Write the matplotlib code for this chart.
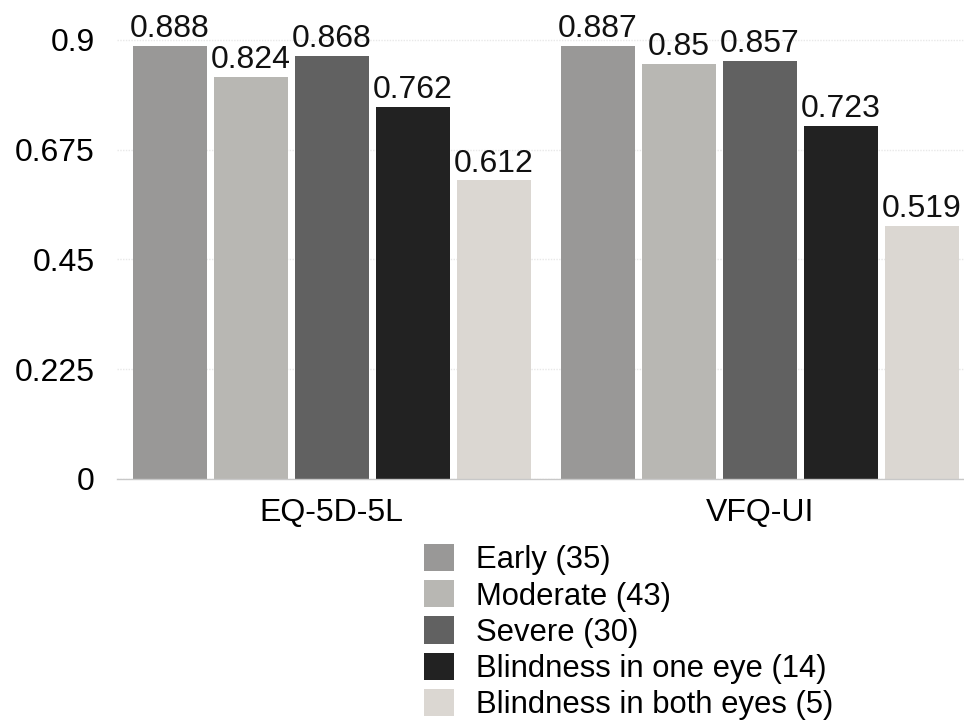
import matplotlib
matplotlib.use("Agg")
import matplotlib.pyplot as plt
import numpy as np
from matplotlib.patches import Patch

plt.rcParams['font.family'] = ['Liberation Sans', 'DejaVu Sans']

instruments = ["EQ-5D-5L", "VFQ-UI"]
stages = ["Early (35)", "Moderate (43)", "Severe (30)",
          "Blindness in one eye (14)", "Blindness in both eyes (5)"]
early = [0.888, 0.887]
moderate = [0.824, 0.85]
severe = [0.868, 0.857]
blind_one = [0.762, 0.723]
blind_both = [0.612, 0.519]
series = [early, moderate, severe, blind_one, blind_both]
colors = ["#999897", "#b8b7b3", "#616161", "#222222", "#dbd7d2"]
yticks = [0, 0.225, 0.45, 0.675, 0.9]
ytick_labels = ["0", "0.225", "0.45", "0.675", "0.9"]

fig = plt.figure(figsize=(9.64, 7.21), dpi=100)
ax = fig.add_axes([117 / 964, 1 - 479 / 721, 1 - 117 / 964, 479 / 721])

x = np.arange(len(instruments))
step = 0.189
width = 0.173
for i, (vals, col) in enumerate(zip(series, colors)):
    pos = x + (i - 2) * step
    bars = ax.bar(pos, vals, width=width, color=col, label=stages[i], zorder=2)
    for b, v in zip(bars, vals):
        ax.text(b.get_x() + b.get_width() / 2, v + 0.004, f"{v:g}",
                ha="center", va="bottom", fontsize=23, color="#111111")

ax.set_xlim(-0.502, 1.477)
ax.set_ylim(0, 0.982)
ax.set_yticks(yticks)
ax.set_yticklabels(ytick_labels, fontsize=23)
ax.set_xticks(x)
ax.set_xticklabels(instruments, fontsize=23)
ax.tick_params(axis="y", length=0, pad=16)
ax.tick_params(axis="x", length=0, pad=14)
for s in ["top", "right", "left"]:
    ax.spines[s].set_visible(False)
ax.spines["bottom"].set_color("#c8c8c8")
ax.spines["bottom"].set_linewidth(1.0)
ax.yaxis.grid(True, color="#e8e8e8", linestyle=(0, (1, 1)), linewidth=1.0, zorder=0)
ax.set_axisbelow(True)

handles = [Patch(facecolor=c, edgecolor="none") for c in colors]
fig.legend(handles, stages, loc="upper left",
           bbox_to_anchor=(418 / 964, 1 - 538 / 721),
           frameon=False, fontsize=22.3, handlelength=0.97, handleheight=0.97,
           handletextpad=0.7, labelspacing=0.16, borderaxespad=0, borderpad=0.2)

fig.savefig("out.png", dpi=100)
